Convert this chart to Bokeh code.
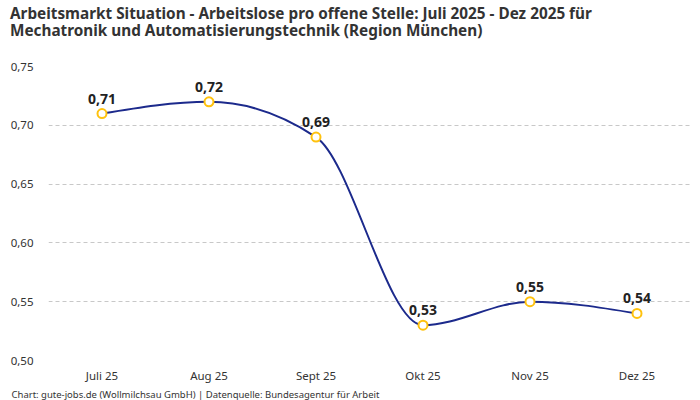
from bokeh.plotting import figure
from bokeh.layouts import column
from bokeh.models import Title, FixedTicker, Range1d, ColumnDataSource, CustomJSTickFormatter, Div
from bokeh.core.properties import value
from bokeh.embed import file_html
from bokeh.resources import INLINE

categories = ["Juli 25", "Aug 25", "Sept 25", "Okt 25", "Nov 25", "Dez 25"]
values = [0.71, 0.72, 0.69, 0.53, 0.55, 0.54]
y_ticks = [0.50, 0.55, 0.60, 0.65, 0.70, 0.75]
title_line1 = "Arbeitsmarkt Situation - Arbeitslose pro offene Stelle: Juli 2025 - Dez 2025 für"
title_line2 = "Mechatronik und Automatisierungstechnik (Region München)"
footer = "Chart: gute-jobs.de (Wollmilchsau GmbH) | Datenquelle: Bundesagentur für Arbeit"

FONT = "Noto Sans"
xs = list(range(len(categories)))

# monotone cubic (d3 curveMonotoneX) tangents
n = len(xs)
sl = [(values[i + 1] - values[i]) / (xs[i + 1] - xs[i]) for i in range(n - 1)]
def sign(v):
    return (v > 0) - (v < 0)
t = [0.0] * n
for i in range(1, n - 1):
    h0 = xs[i] - xs[i - 1]
    h1 = xs[i + 1] - xs[i]
    s0, s1 = sl[i - 1], sl[i]
    pp = (s0 * h1 + s1 * h0) / (h0 + h1)
    t[i] = (sign(s0) + sign(s1)) * min(abs(s0), abs(s1), 0.5 * abs(pp))
t[0] = (3 * sl[0] - t[1]) / 2
t[-1] = (3 * sl[-1] - t[-2]) / 2

bz = dict(x0=[], y0=[], x1=[], y1=[], cx0=[], cy0=[], cx1=[], cy1=[])
for i in range(n - 1):
    dx = (xs[i + 1] - xs[i]) / 3
    bz["x0"].append(xs[i]); bz["y0"].append(values[i])
    bz["x1"].append(xs[i + 1]); bz["y1"].append(values[i + 1])
    bz["cx0"].append(xs[i] + dx); bz["cy0"].append(values[i] + dx * t[i])
    bz["cx1"].append(xs[i + 1] - dx); bz["cy1"].append(values[i + 1] - dx * t[i + 1])

# header with the two-line title
HEAD_H = 44
head = Div(text=('<div style="padding:4.5px 0 0 10px;font-family:\'Noto Sans\';font-weight:bold;'
                 'font-size:15.3px;line-height:17px;color:#333333;white-space:nowrap;">'
                 + title_line1 + "<br>" + title_line2 + "</div>"),
           width=700, height=HEAD_H, margin=0)

p = figure(width=700, height=400 - HEAD_H, output_backend="svg", toolbar_location=None,
           x_range=Range1d(-0.5, len(categories) - 0.5),
           y_range=Range1d(0.5, 0.75),
           min_border_left=48, min_border_right=10, min_border_top=66 - HEAD_H,
           min_border_bottom=39)
p.outline_line_color = None
p.background_fill_color = "white"
p.border_fill_color = "white"

p.bezier(x0="x0", y0="y0", x1="x1", y1="y1", cx0="cx0", cy0="cy0", cx1="cx1", cy1="cy1",
         source=ColumnDataSource(bz), line_color="#1c2a8c", line_width=2)

src = ColumnDataSource(dict(x=xs, y=values, lab=[f"{v:.2f}".replace(".", ",") for v in values]))
p.scatter("x", "y", source=src, size=9, fill_color="white", line_color="#FFC20E", line_width=2)
p.text("x", "y", text="lab", source=src, text_align="center", text_baseline="bottom",
       y_offset=-10, text_font=value(FONT), text_font_size="14px", text_font_style="bold",
       text_color="#222222")

p.xaxis.ticker = FixedTicker(ticks=xs)
p.xaxis.major_label_overrides = {i: c for i, c in enumerate(categories)}
p.yaxis.ticker = FixedTicker(ticks=y_ticks)
p.yaxis.formatter = CustomJSTickFormatter(code="return tick.toFixed(2).replace('.', ',');")
for ax in (p.xaxis, p.yaxis):
    ax.axis_line_color = None
    ax.major_tick_line_color = None
    ax.minor_tick_line_color = None
    ax.major_tick_out = 0
    ax.major_tick_in = 0
    ax.minor_tick_out = 0
    ax.major_label_text_font = FONT
    ax.major_label_text_font_size = "11.5px"
    ax.major_label_text_color = "#333333"
p.xaxis.major_label_standoff = 7
p.yaxis.major_label_standoff = 15

p.xgrid.grid_line_color = None
p.ygrid.grid_line_color = "#c8c8c8"
p.ygrid.grid_line_dash = "4 3"
p.ygrid.grid_line_width = 1

ft = Title(text=footer, align="left", offset=-37, text_font=FONT, text_font_size="9.5px",
           text_font_style="normal", text_color="#333333", standoff=0)
p.add_layout(ft, "below")

layout = column(head, p, spacing=0)
open("out.html", "w").write(file_html(layout, INLINE))
